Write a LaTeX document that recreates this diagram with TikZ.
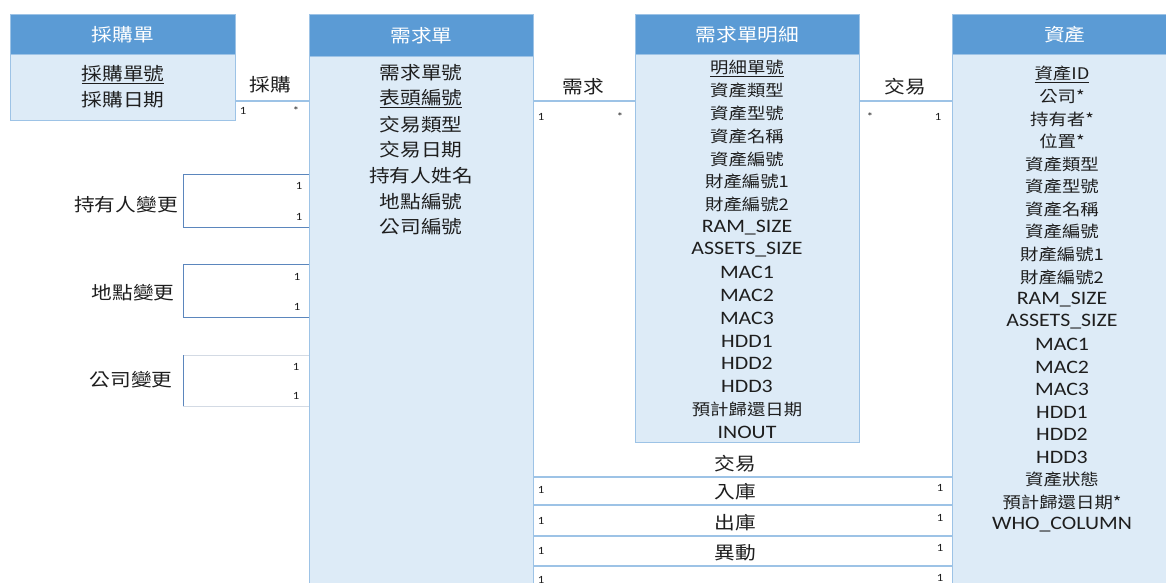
\documentclass[tikz,border=0pt]{standalone}
\usepackage{fontspec}
\setmainfont{Carlito}[FakeStretch=1.15]
\newfontfamily\cjk{Noto Sans CJK TC}[FakeStretch=1.15]
\newcommand{\latx}[1]{{\normalfont\fontsize{19}{19}\selectfont #1}}
\definecolor{hdr}{HTML}{5B9BD5}
\definecolor{bodyc}{HTML}{DDEBF7}
\definecolor{edgec}{HTML}{9DC3E6}
\definecolor{relc}{HTML}{9DC3E6}
\definecolor{rectc}{HTML}{5B86BD}
\definecolor{faint}{HTML}{D3DAE4}
\definecolor{txt}{HTML}{1E1E1E}
\tikzset{
  hdrbox/.style={fill=hdr, draw=edgec, line width=0.8pt, anchor=north west, inner sep=0pt,
    text=white, font=\cjk\fontsize{18}{18}\selectfont},
  bodybox/.style={fill=bodyc, draw=edgec, line width=0.8pt, anchor=north west, inner sep=0pt},
  fbig/.style={inner sep=0pt, text=txt, font=\cjk\fontsize{18}{18}\selectfont},
  fsmall/.style={inner sep=0pt, text=txt, font=\cjk\fontsize{16}{16}\selectfont},
  mult/.style={inner sep=0pt, text=txt, font=\normalfont\fontsize{11}{11}\selectfont},
  rel/.style={draw=relc, line width=1.2pt},
  relrect/.style={draw=rectc, line width=1pt},
}
\begin{document}
\begin{tikzpicture}[x=1pt,y=-1pt]
\useasboundingbox (0,0) rectangle (1166,583);
\clip (0,0) rectangle (1166,583);
\fill[white] (0,0) rectangle (1166,583);

% ---------- entity boxes ----------
\node[bodybox, minimum width=225pt, minimum height=66pt] (purb) at (10,54) {};
\node[hdrbox, minimum width=225pt, minimum height=40pt] (purh) at (10,14) {採購單};

\node[bodybox, minimum width=224pt, minimum height=540pt] (reqb) at (309,56) {};
\node[hdrbox, minimum width=224pt, minimum height=42pt] (reqh) at (309,14) {需求單};

\node[bodybox, minimum width=224pt, minimum height=388pt] (detb) at (635,54) {};
\node[hdrbox, minimum width=224pt, minimum height=40pt] (deth) at (635,14) {需求單明細};

\node[bodybox, minimum width=225pt, minimum height=540pt] (astb) at (952,54) {};
\node[hdrbox, minimum width=225pt, minimum height=40pt] (asth) at (952,14) {資產};

% ---------- fields ----------
\node[fbig] (pf1) at (123,75) {\underline{採購單號}};
\node[fbig] (pf2) at (123,100) {採購日期};

\foreach \t [count=\i from 0] in {需求單號,\underline{表頭編號},交易類型,交易日期,持有人姓名,地點編號,公司編號}
  \node[fbig] (rf\i) at (421,73+25.67*\i) {\t};

\foreach \t [count=\i from 0] in {\underline{明細單號},資產類型,資產型號,資產名稱,資產編號,財產編號1,財產編號2,
  \latx{RAM\_SIZE},\latx{ASSETS\_SIZE},\latx{MAC1},\latx{MAC2},\latx{MAC3},\latx{HDD1},\latx{HDD2},\latx{HDD3},
  預計歸還日期,\latx{INOUT}}
  \node[fsmall] (df\i) at (747,68+22.75*\i) {\t};

\foreach \t [count=\i from 0] in {\underline{資產ID},公司*,持有者*,位置*,資產類型,資產型號,資產名稱,資產編號,
  財產編號1,財產編號2,\latx{RAM\_SIZE},\latx{ASSETS\_SIZE},\latx{MAC1},\latx{MAC2},\latx{MAC3},
  \latx{HDD1},\latx{HDD2},\latx{HDD3},資產狀態,預計歸還日期*,\latx{WHO\_COLUMN}}
  \node[fsmall] (af\i) at (1062,74+22.55*\i) {\t};

% ---------- top connectors ----------
\draw[rel] (purb.east |- 0,101) -- (reqb.west |- 0,101);
\node[fbig] (l1) at (270,85) {採購};
\node[mult] (m1a) at (243,111) {1};
\node[mult] (m1b) at (296,111) {*};

\draw[rel] (reqb.east |- 0,101) -- (detb.west |- 0,101);
\node[fbig] (l2) at (583,87) {需求};
\node[mult] (m2a) at (541,117) {1};
\node[mult] (m2b) at (620,117) {*};

\draw[rel] (detb.east |- 0,101) -- (astb.west |- 0,101);
\node[fbig] (l3) at (905,87) {交易};
\node[mult] (m3a) at (870,117) {*};
\node[mult] (m3b) at (938,117) {1};

% ---------- left self relations ----------
\coordinate (h1) at (183,174);
\coordinate (h2) at (183,227);
\draw[relrect] (reqb.west |- h1) -- (h1) -- (h2) -- (reqb.west |- h2);
\node[fbig] (lh) at (126,205) {持有人變更};
\node[mult] (mh1) at (299,186) {1};
\node[mult] (mh2) at (299,217) {1};

\coordinate (p1) at (183,264);
\coordinate (p2) at (183,317);
\draw[relrect] (reqb.west |- p1) -- (p1) -- (p2) -- (reqb.west |- p2);
\node[fbig] (lp) at (133,293) {地點變更};
\node[mult] (mp1) at (297,277) {1};
\node[mult] (mp2) at (297,307) {1};

\coordinate (c1) at (183,355);
\coordinate (c2) at (183,406);
\draw[faint, line width=1pt] (reqb.west |- c1) -- (c1);
\draw[faint, line width=1pt] (c2) -- (reqb.west |- c2);
\draw[relrect] (c1) -- (c2);
\node[fbig] (lc) at (131,380) {公司變更};
\node[mult] (mc1) at (296,367) {1};
\node[mult] (mc2) at (296,396) {1};

% ---------- bottom connectors ----------
\foreach \y/\lab/\ya/\yb [count=\k] in {477/交易/490/488, 505/入庫/521/518, 536/出庫/551/548, 566/異動/580/578} {
  \draw[rel] (reqb.east |- 0,\y) -- (astb.west |- 0,\y);
  \node[fbig] (bl\k) at (735,\y-13) {\lab};
  \node[mult] (bla\k) at (541,\ya) {1};
  \node[mult] (blb\k) at (940,\yb) {1};
}
\end{tikzpicture}
\end{document}
